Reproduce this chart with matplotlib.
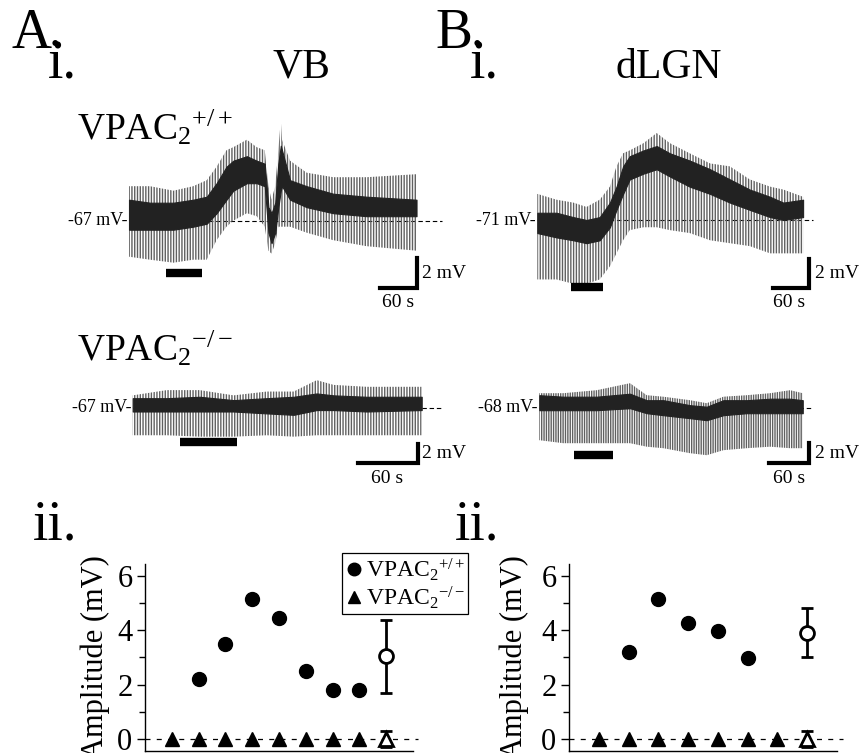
import matplotlib
matplotlib.use("Agg")
import matplotlib.pyplot as plt

# ---------------- data ----------------
# traces: time (s), dense core top/bottom and spike envelope up/low (mV rel. to rest)
vb_wt_t    = [0, 34, 72, 104, 126, 142, 158, 169, 191, 207, 220, 226, 231, 237, 242, 246, 248, 261, 288, 331, 385, 466]
vb_wt_ctop = [1.4, 1.2, 1.2, 1.4, 1.6, 2.5, 3.6, 4.0, 4.3, 4.0, 3.8, 0.9, 0.5, 1.2, 3.8, 5.0, 4.7, 2.7, 2.3, 1.8, 1.6, 1.4]
vb_wt_cbot = [-0.6, -0.6, -0.6, -0.4, -0.2, 0.5, 1.4, 2.0, 2.5, 2.5, 2.3, -0.8, -1.5, -0.8, 0.9, 2.0, 2.3, 1.4, 0.9, 0.5, 0.3, 0.3]
vb_wt_sup  = [2.3, 2.3, 2.0, 2.3, 2.7, 3.6, 4.7, 4.9, 5.4, 4.9, 4.7, 2.3, 1.4, 2.3, 4.7, 6.7, 5.4, 4.0, 3.2, 2.9, 2.9, 3.1]
vb_wt_slow = [-2.4, -2.6, -2.8, -2.6, -2.6, -1.3, -0.4, 0.0, 0.5, 0.3, -0.4, -2.0, -2.2, -1.5, -0.4, -0.4, -0.4, -0.4, -0.8, -1.3, -1.7, -2.0]

lgn_wt_t    = [0, 32, 60, 82, 104, 121, 132, 143, 154, 177, 199, 221, 254, 288, 321, 354, 388, 410, 443]
lgn_wt_ctop = [0.5, 0.5, 0.2, 0.0, 0.2, 1.2, 2.3, 3.7, 4.4, 4.8, 5.1, 4.6, 4.1, 3.5, 2.8, 2.1, 1.6, 1.2, 1.4]
lgn_wt_cbot = [-0.9, -1.2, -1.4, -1.6, -1.4, -0.5, 0.7, 1.8, 2.8, 3.2, 3.5, 3.0, 2.3, 1.8, 1.2, 0.7, 0.2, 0.0, 0.2]
lgn_wt_sup  = [1.8, 1.4, 1.2, 0.9, 1.4, 2.3, 3.7, 4.6, 4.8, 5.3, 6.0, 5.3, 4.6, 3.9, 3.7, 2.8, 2.3, 2.1, 1.6]
lgn_wt_slow = [-4.1, -4.1, -4.4, -4.4, -4.1, -3.2, -2.3, -1.4, -0.7, -0.5, -0.5, -0.7, -0.9, -1.4, -1.6, -1.8, -2.3, -2.3, -2.3]

vb_ko_t    = [0, 34, 67, 101, 134, 161, 184, 201, 234, 289]
vb_ko_ctop = [1.0, 1.0, 1.15, 0.8, 1.0, 1.15, 1.5, 1.3, 1.15, 1.15]
vb_ko_cbot = [-0.4, -0.4, -0.4, -0.4, -0.6, -0.75, -0.25, -0.25, -0.4, -0.25]
vb_ko_sup  = [1.3, 1.85, 1.85, 1.3, 1.7, 1.7, 2.9, 2.4, 2.2, 2.2]
vb_ko_slow = [-2.9, -2.9, -3.05, -3.05, -2.9, -3.05, -2.9, -2.9, -2.9, -2.9]

lgn_ko_t    = [0, 36, 86, 136, 161, 186, 226, 251, 276, 311, 346, 376, 395]
lgn_ko_ctop = [1.25, 1.1, 1.1, 1.4, 0.75, 0.75, 0.25, 0.1, 0.75, 0.75, 0.9, 0.9, 0.75]
lgn_ko_cbot = [-0.25, -0.25, -0.25, -0.05, -0.55, -0.75, -1.05, -1.25, -0.75, -0.55, -0.55, -0.55, -0.55]
lgn_ko_sup  = [1.45, 1.45, 1.75, 2.45, 1.25, 1.1, 0.75, 0.45, 1.1, 1.25, 1.45, 1.75, 1.45]
lgn_ko_slow = [-3.25, -3.55, -3.55, -3.55, -3.9, -4.05, -4.55, -4.75, -4.25, -4.05, -3.9, -4.05, -4.05]

# drug application (s)
vb_wt_drug = [60, 118]
lgn_wt_drug = [56, 110]
vb_ko_drug = [47, 104]
lgn_ko_drug = [52, 110]

rest_labels = ["-67 mV-", "-71 mV-", "-67 mV-", "-68 mV-"]

# amplitudes (mV)
vb_wt_cells = [2, 3, 4, 5, 6, 7, 8]
vb_wt_amp = [2.2, 3.5, 5.15, 4.45, 2.5, 1.8, 1.8]
vb_ko_cells = [1, 2, 3, 4, 5, 6, 7, 8]
vb_ko_amp = [0, 0, 0, 0, 0, 0, 0, 0]
vb_wt_mean, vb_wt_lo, vb_wt_hi = 3.05, 1.7, 4.37
vb_ko_mean, vb_ko_err = 0.0, 0.3

lgn_wt_cells = [2, 3, 4, 5, 6]
lgn_wt_amp = [3.2, 5.15, 4.25, 3.97, 2.97]
lgn_ko_cells = [1, 2, 3, 4, 5, 6, 7]
lgn_ko_amp = [0, 0, 0, 0, 0, 0, 0]
lgn_wt_mean, lgn_wt_lo, lgn_wt_hi = 3.9, 3.03, 4.8
lgn_ko_mean, lgn_ko_err = 0.0, 0.3

# ---------------- style ----------------
plt.rcParams["font.family"] = ["Liberation Serif", "DejaVu Serif"]
plt.rcParams["mathtext.fontset"] = "custom"
plt.rcParams["mathtext.rm"] = "Liberation Serif"
plt.rcParams["mathtext.it"] = "Liberation Serif:italic"
plt.rcParams["hatch.linewidth"] = 1.0
plt.rcParams["hatch.color"] = "#606060"

W, H = 865, 753
fig = plt.figure(figsize=(W / 100, H / 100), dpi=100)


def ftext(x, y, s, **kw):
    fig.text(x / W, 1 - y / H, s, **kw)


def trace_axes(box, x0, sx, y0, sy):
    l, t, r, b = box
    ax = fig.add_axes([l / W, 1 - b / H, (r - l) / W, (b - t) / H])
    ax.set_xlim((l - x0) / sx, (r - x0) / sx)
    ax.set_ylim((y0 - b) / sy, (y0 - t) / sy)
    ax.axis("off")
    return ax


def draw_trace(ax, t, ctop, cbot, sup, slow, drug, drug_y, rest, dash_end, hatch, corner):
    ax.hlines(0, 0, dash_end, colors="k", lw=0.8, linestyles=(0, (4, 2.5)), zorder=0)
    ax.fill_between(t, slow, sup, facecolor="none", edgecolor="#606060", hatch=hatch, linewidth=0, zorder=1)
    ax.fill_between(t, cbot, ctop, color="#222222", linewidth=0.8, zorder=2)
    ax.plot(drug, [drug_y, drug_y], color="k", lw=6, solid_capstyle="butt")
    ax.annotate(rest, (0, 0), xytext=(-1, 0), textcoords="offset points",
                ha="right", va="center", fontsize=13)
    ct, cv = corner
    ax.plot([ct - 60, ct, ct], [cv, cv, cv + 2], color="k", lw=3, solid_joinstyle="miter")


ax1 = trace_axes((125, 105, 450, 310), 129, 0.617, 220.7, 15)
draw_trace(ax1, vb_wt_t, vb_wt_ctop, vb_wt_cbot, vb_wt_sup, vb_wt_slow, vb_wt_drug, -3.5,
           rest_labels[0], 507, "|" * 6, (466, -4.5))
ax2 = trace_axes((533, 105, 860, 310), 537.3, 0.6, 220, 14.5)
draw_trace(ax2, lgn_wt_t, lgn_wt_ctop, lgn_wt_cbot, lgn_wt_sup, lgn_wt_slow, lgn_wt_drug, -4.6,
           rest_labels[1], 459, "|" * 6, (453, -4.7))
ax3 = trace_axes((125, 370, 450, 490), 132.7, 1.0, 407.7, 9.5)
draw_trace(ax3, vb_ko_t, vb_ko_ctop, vb_ko_cbot, vb_ko_sup, vb_ko_slow, vb_ko_drug, -3.56,
           rest_labels[2], 309, "|" * 6, (285, -5.8))
ax4 = trace_axes((533, 370, 860, 490), 539.3, 0.667, 407.7, 10)
draw_trace(ax4, lgn_ko_t, lgn_ko_ctop, lgn_ko_cbot, lgn_ko_sup, lgn_ko_slow, lgn_ko_drug, -4.76,
           rest_labels[3], 408, "|" * 7, (405, -5.5))

# scale bar labels
for x, y in [(422, 273), (815, 273), (422, 453), (815, 453)]:
    ftext(x, y, "2 mV", fontsize=14, va="center")
for x, y in [(398, 307), (789, 307), (387, 483), (789, 483)]:
    ftext(x, y, "60 s", fontsize=14, ha="center", va="baseline")

# panel labels
ftext(12, 47, "A.", fontsize=40, va="baseline")
ftext(48, 78, "i.", fontsize=40, va="baseline")
ftext(435, 47, "B.", fontsize=40, va="baseline")
ftext(470, 78, "i.", fontsize=40, va="baseline")
ftext(301, 78, "VB", fontsize=30, ha="center", va="baseline")
ftext(669, 78, "dLGN", fontsize=30, ha="center", va="baseline")
ftext(77, 140, r"VPAC$_2{}^{+/+}$", fontsize=27, va="baseline")
ftext(77, 361, r"VPAC$_2{}^{-/-}$", fontsize=27, va="baseline")
ftext(33, 540, "ii.", fontsize=40, va="baseline")
ftext(455, 540, "ii.", fontsize=40, va="baseline")


def amp_panel(box, xmax, wt_x, wt_y, ko_x, ko_y, mean, lo, hi, ko_mean, ko_err, ylab_x):
    l, t, r, b = box
    ax = fig.add_axes([l / W, 1 - b / H, (r - l) / W, (b - t) / H])
    ax.set_xlim(0, xmax)
    ax.set_ylim(-0.44, 6.43)
    ax.hlines(0, 0, xmax + 0.2, colors="k", lw=0.9, linestyles=(0, (4, 5)), clip_on=False, zorder=1)
    ko, = ax.plot(ko_x, ko_y, "^", ms=10, color="k", clip_on=False, zorder=3)
    wt, = ax.plot(wt_x, wt_y, "o", ms=10, color="k", zorder=3)
    ax.errorbar([xmax - 1], [mean], yerr=[[mean - lo], [hi - mean]], fmt="o", ms=10,
                mfc="white", mec="k", mew=2, ecolor="k", elinewidth=2, capsize=4, capthick=2, zorder=4)
    ax.errorbar([xmax - 1], [ko_mean], yerr=[ko_err], fmt="^", ms=10,
                mfc="white", mec="k", mew=2, ecolor="k", elinewidth=2, capsize=4, capthick=2,
                zorder=4, clip_on=False)
    for s in ["top", "right"]:
        ax.spines[s].set_visible(False)
    ax.spines["left"].set_linewidth(1)
    ax.spines["bottom"].set_linewidth(1)
    ax.set_xticks([])
    ax.set_yticks([0, 2, 4, 6])
    ax.set_yticks([1, 3, 5], minor=True)
    ax.tick_params(axis="y", which="major", length=6, width=1, labelsize=22, pad=3)
    ax.tick_params(axis="y", which="minor", length=4, width=1)
    ax.set_ylabel("Amplitude (mV)", fontsize=22)
    ax.yaxis.set_label_coords(ylab_x, 0.5)
    return ax, wt, ko


axL, wt_h, ko_h = amp_panel((145, 564, 413, 751), 10, vb_wt_cells, vb_wt_amp, vb_ko_cells, vb_ko_amp,
                            vb_wt_mean, vb_wt_lo, vb_wt_hi, vb_ko_mean, vb_ko_err, -0.13)
amp_panel((569, 564, 837, 751), 9, lgn_wt_cells, lgn_wt_amp, lgn_ko_cells, lgn_ko_amp,
          lgn_wt_mean, lgn_wt_lo, lgn_wt_hi, lgn_ko_mean, lgn_ko_err, -0.15)

leg = axL.legend([wt_h, ko_h], [r"VPAC$_2{}^{+/+}$", r"VPAC$_2{}^{-/-}$"], loc="upper left",
                 bbox_to_anchor=(342 / W, 1 - 553 / H), bbox_transform=fig.transFigure,
                 fancybox=False, edgecolor="k", framealpha=1, borderpad=0.15, borderaxespad=0,
                 handlelength=0.7, handletextpad=0.15, labelspacing=0.05, fontsize=17, markerscale=0.9)
leg.get_frame().set_linewidth(0.9)

fig.savefig("out.png", dpi=100)
